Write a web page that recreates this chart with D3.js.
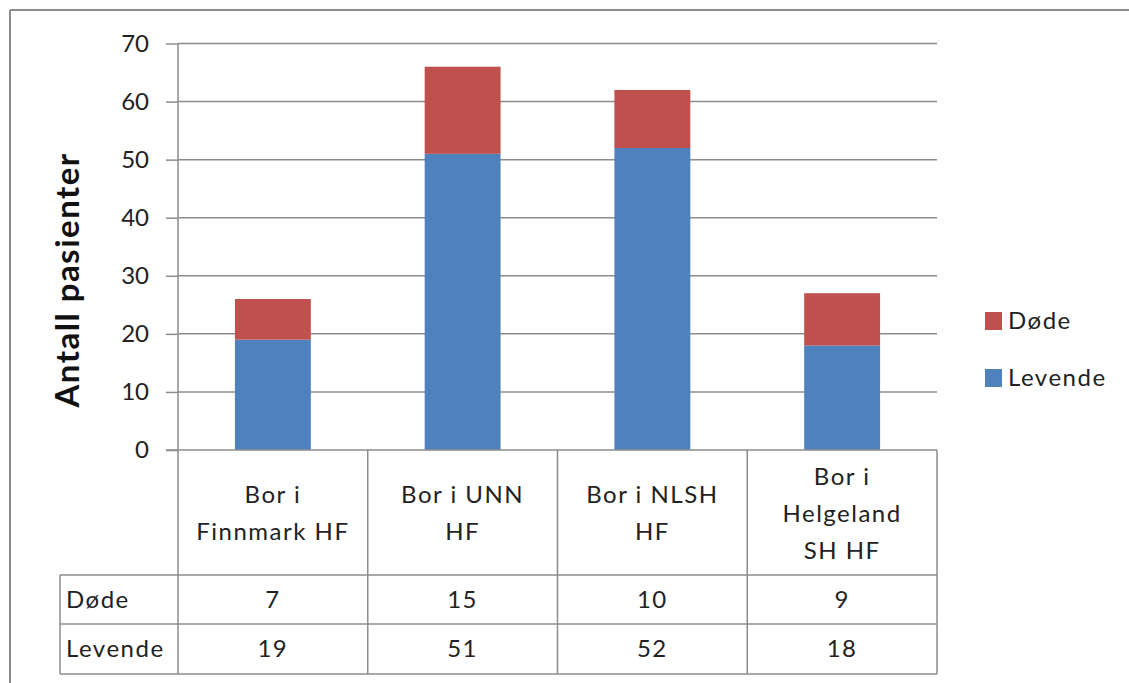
<!DOCTYPE html>
<html>
<head>
<meta charset="utf-8">
<script src="https://cdn.jsdelivr.net/npm/d3@7"></script>
<style>
html,body{margin:0;padding:0;background:#fff;}
svg{display:block;font-family:Lato,"Open Sans",sans-serif;}
</style>
</head>
<body>
<svg id="chart" width="1129" height="683"></svg>
<script>
const categories = [["Bor i","Finnmark HF"],["Bor i UNN","HF"],["Bor i NLSH","HF"],["Bor i","Helgeland","SH HF"]];
const categoryKeys = ["Finnmark","UNN","NLSH","Helgeland"];
const dode = [7, 15, 10, 9];
const levende = [19, 51, 52, 18];
const seriesNames = ["Døde","Levende"];
const yTicks = [0,10,20,30,40,50,60,70];
const yTitle = "Antall pasienter";

(function(){
const svg = d3.select("#chart");
const gridColor = "#8c8c8c";
const colors = {"Døde":"#C0504D","Levende":"#4F81BD"};
const txtSize = 24, txtSpacing = 1.5, txtColor = "#222";

// outer frame
svg.append("line").attr("x1",10).attr("y1",10).attr("x2",1129).attr("y2",10).attr("stroke","#8c8c8c").attr("stroke-width",2);
svg.append("line").attr("x1",10).attr("y1",10).attr("x2",10).attr("y2",683).attr("stroke","#8c8c8c").attr("stroke-width",2);

const pLeft = 178, pRight = 937, pTop = 43.5, pBottom = 450;
const x = d3.scaleBand().domain(categoryKeys).range([pLeft,pRight]).padding(0);
const y = d3.scaleLinear().domain([0,70]).range([pBottom,pTop]);

// gridlines
svg.append("g").selectAll("line").data(yTicks.filter(t=>t>0)).join("line")
  .attr("x1",pLeft).attr("x2",pRight).attr("y1",d=>y(d)).attr("y2",d=>y(d))
  .attr("stroke",gridColor).attr("stroke-width",1.5);

// bars
const data = categoryKeys.map((k,i)=>({key:k,"Levende":levende[i],"Døde":dode[i]}));
const stack = d3.stack().keys(["Levende","Døde"])(data);
const bw = x.bandwidth()*0.4;
svg.append("g").selectAll("g").data(stack).join("g")
  .attr("fill",d=>colors[d.key])
  .selectAll("rect").data(d=>d).join("rect")
  .attr("x",d=>x(d.data.key)+(x.bandwidth()-bw)/2)
  .attr("width",bw)
  .attr("y",d=>y(d[1]))
  .attr("height",d=>y(d[0])-y(d[1]));

// y axis
const yAxis = d3.axisLeft(y).tickValues(yTicks).tickSize(12).tickPadding(17);
const ga = svg.append("g").attr("transform",`translate(${pLeft},0)`).call(yAxis);
ga.select(".domain").attr("stroke",gridColor).attr("stroke-width",1.5).attr("d",`M0,${pTop}V${pBottom}`);
ga.selectAll(".tick line").attr("stroke",gridColor).attr("stroke-width",1.5);
ga.selectAll(".tick text").attr("font-size",24).attr("fill",txtColor).attr("font-family","Lato");

// y title
svg.append("text").attr("transform",`translate(79,280) rotate(-90)`)
  .attr("text-anchor","middle").attr("font-size",33).attr("font-weight","bold").attr("fill","#111")
  .attr("letter-spacing",1.5)
  .text(yTitle);

// table
const rowTop = 575, rowMid = 624, rowBot = 674, labelLeft = 60;
const tg = svg.append("g").attr("stroke",gridColor).attr("stroke-width",1.5);
tg.append("line").attr("x1",pLeft-12).attr("x2",pRight).attr("y1",pBottom).attr("y2",pBottom);
[rowTop,rowMid,rowBot].forEach(yy=>tg.append("line").attr("x1",labelLeft).attr("x2",pRight).attr("y1",yy).attr("y2",yy));
const vxs = categoryKeys.map(k=>x(k)).concat([pRight]);
vxs.forEach(xx=>tg.append("line").attr("x1",xx).attr("x2",xx).attr("y1",pBottom).attr("y2",rowBot));
tg.append("line").attr("x1",labelLeft).attr("x2",labelLeft).attr("y1",rowTop).attr("y2",rowBot);

// category labels
const lh = 37;
const catG = svg.append("g").attr("font-size",txtSize).attr("letter-spacing",txtSpacing).attr("fill",txtColor).attr("text-anchor","middle");
categories.forEach((lines,i)=>{
  const cx = x(categoryKeys[i]) + x.bandwidth()/2;
  const cy = (pBottom+rowTop)/2 + 1;
  const start = cy - (lines.length-1)*lh/2;
  lines.forEach((t,j)=>{
    catG.append("text").attr("x",cx).attr("y",start+j*lh).attr("dy","0.35em").text(t);
  });
});

// row values
const rows = [[seriesNames[0],dode],[seriesNames[1],levende]];
const rowCenters = [(rowTop+rowMid)/2, (rowMid+rowBot)/2];
rows.forEach((r,ri)=>{
  svg.append("text").attr("x",labelLeft+6).attr("y",rowCenters[ri]).attr("dy","0.35em")
    .attr("font-size",txtSize).attr("letter-spacing",txtSpacing).attr("fill",txtColor).text(r[0]);
  r[1].forEach((v,i)=>{
    svg.append("text").attr("x",x(categoryKeys[i])+x.bandwidth()/2).attr("y",rowCenters[ri]).attr("dy","0.35em")
      .attr("text-anchor","middle").attr("font-size",txtSize).attr("letter-spacing",txtSpacing).attr("fill",txtColor).text(v);
  });
});

// legend
const legendItems = [["Døde",321],["Levende",378]];
legendItems.forEach(([name,cy])=>{
  svg.append("rect").attr("x",985).attr("y",cy-9).attr("width",17).attr("height",18).attr("fill",colors[name]);
  svg.append("text").attr("x",1008).attr("y",cy).attr("dy","0.35em").attr("font-size",txtSize).attr("letter-spacing",txtSpacing).attr("fill",txtColor).text(name);
});
})();
</script>
</body>
</html>
